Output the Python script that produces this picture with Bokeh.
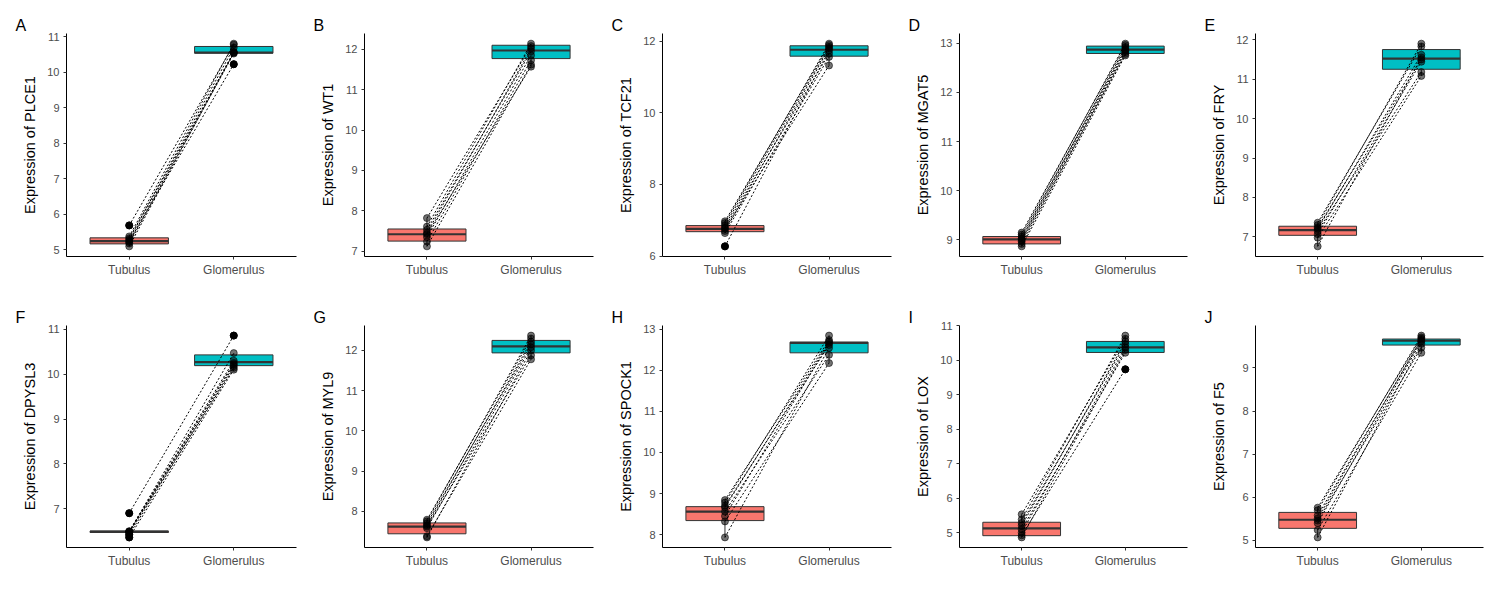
import math
from bokeh.plotting import figure
from bokeh.layouts import gridplot
from bokeh.models import Range1d, SingleIntervalTicker, FixedTicker
from bokeh.embed import file_html
from bokeh.resources import INLINE

# ---------------- data ----------------
groups = ["Tubulus", "Glomerulus"]
letters = ["A", "B", "C", "D", "E", "F", "G", "H", "I", "J"]
genes = ["PLCE1", "WT1", "TCF21", "MGAT5", "FRY", "DPYSL3", "MYL9", "SPOCK1", "LOX", "F5"]

# paired samples (index i in Tubulus paired with index i in Glomerulus)
PLCE1_tub = [5.69, 5.38, 5.33, 5.29, 5.25, 5.22, 5.18, 5.10]
PLCE1_glo = [10.78, 10.81, 10.55, 10.70, 10.23, 10.58, 10.53, 10.56]
WT1_tub = [7.82, 7.61, 7.53, 7.45, 7.42, 7.35, 7.24, 7.12]
WT1_glo = [12.08, 12.14, 11.95, 12.02, 11.57, 11.85, 11.73, 11.62]
TCF21_tub = [6.97, 6.92, 6.86, 6.80, 6.76, 6.70, 6.64, 6.27]
TCF21_glo = [11.89, 11.93, 11.84, 11.65, 11.32, 11.80, 11.56, 11.74]
MGAT5_tub = [9.15, 9.11, 9.07, 9.03, 9.00, 8.97, 8.92, 8.87]
MGAT5_glo = [12.96, 12.99, 12.88, 12.92, 12.85, 12.78, 12.82, 12.75]
FRY_tub = [7.36, 7.30, 7.24, 7.20, 7.15, 7.07, 6.98, 6.76]
FRY_glo = [11.83, 11.90, 11.50, 11.62, 11.18, 11.44, 11.08, 11.55]
DPYSL3_tub = [6.90, 6.50, 6.49, 6.49, 6.48, 6.47, 6.42, 6.36]
DPYSL3_glo = [10.86, 10.30, 10.47, 10.22, 10.25, 10.14, 10.18, 10.10]
MYL9_tub = [7.79, 7.75, 7.70, 7.65, 7.62, 7.58, 7.38, 7.35]
MYL9_glo = [12.30, 12.37, 12.15, 12.22, 11.88, 12.08, 11.78, 12.00]
SPOCK1_tub = [8.84, 8.78, 8.70, 8.66, 8.56, 8.45, 8.32, 7.93]
SPOCK1_glo = [12.74, 12.85, 12.62, 12.70, 12.38, 12.67, 12.18, 12.55]
LOX_tub = [5.53, 5.38, 5.28, 5.20, 5.10, 5.00, 4.92, 4.86]
LOX_glo = [10.63, 10.72, 10.47, 10.55, 10.22, 10.38, 9.74, 10.30]
F5_tub = [5.76, 5.70, 5.58, 5.51, 5.46, 5.40, 5.24, 5.07]
F5_glo = [9.71, 9.75, 9.65, 9.68, 9.47, 9.62, 9.35, 9.56]

# box statistics: (q1, median, q3)
PLCE1_box = [(5.17, 5.25, 5.34), (10.54, 10.56, 10.73)]
WT1_box = [(7.25, 7.42, 7.55), (11.77, 11.97, 12.10)]
TCF21_box = [(6.68, 6.76, 6.85), (11.58, 11.76, 11.87)]
MGAT5_box = [(8.92, 9.01, 9.07), (12.79, 12.87, 12.94)]
FRY_box = [(7.04, 7.17, 7.27), (11.25, 11.52, 11.75)]
DPYSL3_box = [(6.47, 6.49, 6.50), (10.19, 10.27, 10.43)]
MYL9_box = [(7.44, 7.62, 7.71), (11.94, 12.10, 12.25)]
SPOCK1_box = [(8.34, 8.56, 8.68), (12.43, 12.67, 12.69)]
LOX_box = [(4.91, 5.12, 5.30), (10.23, 10.38, 10.55)]
F5_box = [(5.28, 5.48, 5.65), (9.53, 9.63, 9.67)]

ytick_step = [1, 1, 2, 1, 1, 1, 1, 1, 1, 1]

tub_data = [PLCE1_tub, WT1_tub, TCF21_tub, MGAT5_tub, FRY_tub,
            DPYSL3_tub, MYL9_tub, SPOCK1_tub, LOX_tub, F5_tub]
glo_data = [PLCE1_glo, WT1_glo, TCF21_glo, MGAT5_glo, FRY_glo,
            DPYSL3_glo, MYL9_glo, SPOCK1_glo, LOX_glo, F5_glo]
box_data = [PLCE1_box, WT1_box, TCF21_box, MGAT5_box, FRY_box,
            DPYSL3_box, MYL9_box, SPOCK1_box, LOX_box, F5_box]

# ---------------- style / layout ----------------
FILL = ["#F8766D", "#00BFC4"]
EDGE = "#333333"
FONT = "Liberation Sans"
BOX_W = 0.75
col_width = [304, 298, 298, 296, 296]
col_left = [66, 60, 60, 59, 59]
col_frame = [230, 229, 229, 228, 228]
row_height = [298, 290]
row_top = [33, 27]
row_frame = [223, 222]


def make_panel(k):
    r, c = divmod(k, 5)
    tub, glo, box = tub_data[k], glo_data[k], box_data[k]
    allv = tub + glo + [v for b in box for v in b]
    lo, hi = min(allv), max(allv)
    span = hi - lo
    fh = row_frame[r]
    p = figure(width=col_width[c], height=row_height[r],
               x_range=Range1d(0.4, 2.6),
               y_range=Range1d(lo - 0.05 * span, hi + 0.05 * span),
               output_backend="svg", toolbar_location=None,
               min_border_left=col_left[c],
               min_border_right=col_width[c] - col_left[c] - col_frame[c],
               min_border_top=row_top[r],
               min_border_bottom=row_height[r] - row_top[r] - fh)
    p.outline_line_color = None
    p.xgrid.visible = False
    p.ygrid.visible = False
    p.background_fill_color = "white"
    p.border_fill_color = "white"

    # panel letter as title
    p.title.text = letters[k]
    p.title.align = "left"
    p.title.offset = -51
    p.title.standoff = 0
    p.title.text_font = FONT
    p.title.text_font_size = "16px"
    p.title.text_font_style = "normal"
    p.title.text_color = "black"

    # boxes
    for gi, (vals, (q1, med, q3)) in enumerate(zip([tub, glo], box)):
        x = gi + 1
        iqr = q3 - q1
        inside = [v for v in vals if q1 - 1.5 * iqr <= v <= q3 + 1.5 * iqr]
        outl = [v for v in vals if v not in inside]
        wlo, whi = min(inside + [q1]), max(inside + [q3])
        p.segment(x0=[x, x], x1=[x, x], y0=[q3, q1], y1=[whi, wlo],
                  line_color=EDGE, line_width=1)
        p.quad(left=[x - BOX_W / 2], right=[x + BOX_W / 2], bottom=[q1], top=[q3],
               fill_color=FILL[gi], line_color=EDGE, line_width=1)
        p.segment(x0=[x - BOX_W / 2], x1=[x + BOX_W / 2], y0=[med], y1=[med],
                  line_color=EDGE, line_width=2.2)
        if outl:
            p.scatter(x=[x] * len(outl), y=outl, size=7, color="black")

    # paired lines
    p.segment(x0=[1] * len(tub), x1=[2] * len(glo), y0=tub, y1=glo,
              line_color="black", line_width=1, line_dash="2 2")
    # points
    p.scatter(x=[1] * len(tub) + [2] * len(glo), y=tub + glo, size=7,
              color="black", alpha=0.55)

    # axes
    for ax in (p.xaxis[0], p.yaxis[0]):
        ax.axis_line_color = "black"
        ax.axis_line_width = 1
        ax.major_tick_line_color = EDGE
        ax.major_tick_out = 3
        ax.major_tick_in = 0
        ax.minor_tick_line_color = None
        ax.major_label_text_font = FONT
        ax.major_label_text_color = "#4D4D4D"
    p.xaxis.major_label_text_font_size = "12px"
    p.yaxis.major_label_text_font_size = "11px"
    p.xaxis.ticker = FixedTicker(ticks=[1, 2])
    p.xaxis.major_label_overrides = {1: groups[0], 2: groups[1]}
    p.xaxis.major_label_standoff = 3
    p.yaxis.ticker = SingleIntervalTicker(interval=ytick_step[k], num_minor_ticks=0)
    p.yaxis.major_label_standoff = 4

    top_tick = int(math.floor((hi + 0.05 * span) / ytick_step[k]) * ytick_step[k])
    ndig = len(str(top_tick))
    p.yaxis.axis_label = "Expression of " + genes[k]
    p.yaxis.axis_label_text_font = FONT
    p.yaxis.axis_label_text_font_size = "14.5px"
    p.yaxis.axis_label_text_font_style = "normal"
    p.yaxis.axis_label_text_color = "black"
    p.yaxis.axis_label_standoff = 6 + (2 - ndig) * 6
    return p


panels = [make_panel(k) for k in range(10)]
grid = gridplot([panels[:5], panels[5:]], toolbar_location=None)

open("out.html", "w").write(file_html(grid, INLINE))
